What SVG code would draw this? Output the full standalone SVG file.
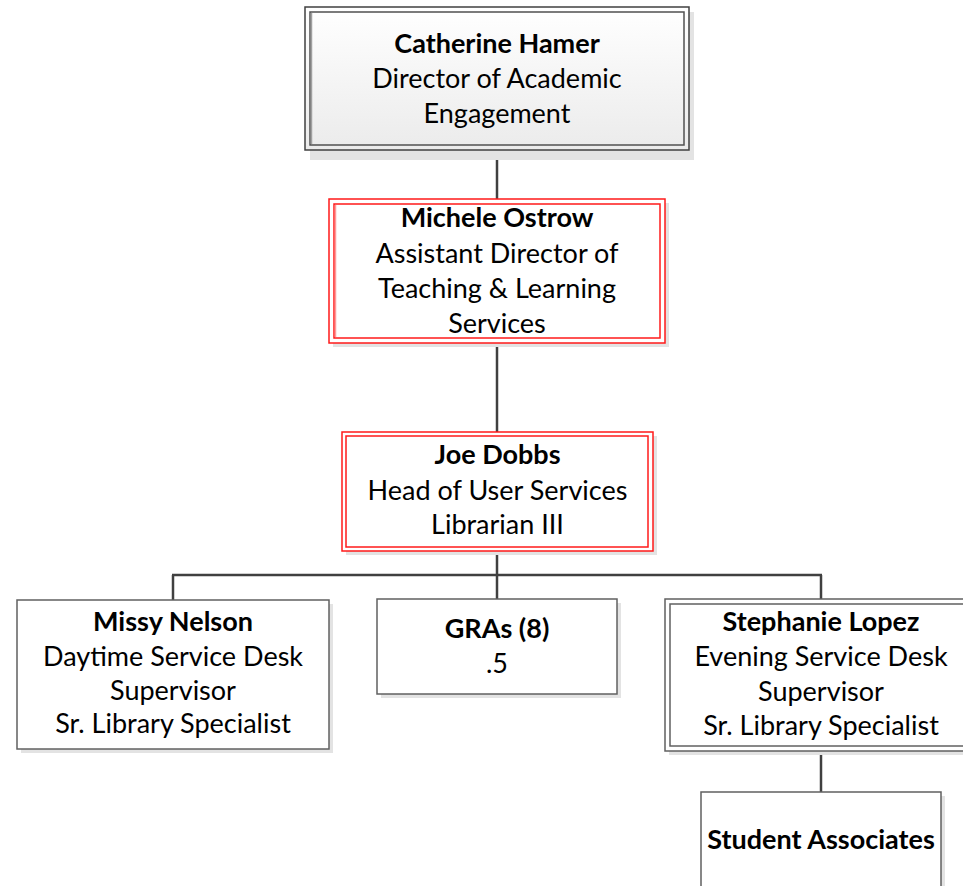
<svg xmlns="http://www.w3.org/2000/svg" width="963" height="886" viewBox="0 0 963 886">
<defs>
<linearGradient id="topfill" x1="0" y1="0" x2="0" y2="1">
<stop offset="0" stop-color="#ffffff"/>
<stop offset="1" stop-color="#ebebeb"/>
</linearGradient>
<style>
.t{font-family:Lato,"Liberation Sans",sans-serif;font-size:27px;fill:#000;text-anchor:middle}
.b{font-weight:bold}
.shadow{fill:#e3e3e3}
.conn{stroke:#404040;stroke-width:2.5;fill:none}
.gray{fill:#fff;stroke:#606060;stroke-width:1.5}
.red{fill:#fff;stroke:#ff1a1a;stroke-width:1.5}
.pink{fill:none;stroke:#ff9a9a;stroke-width:1.5}
</style>
</defs>
<rect width="963" height="886" fill="#fff"/>
<g id="connectors">
<line class="conn" x1="497" y1="150" x2="497" y2="199"/>
<line class="conn" x1="497" y1="343" x2="497" y2="432"/>
<line class="conn" x1="497" y1="551" x2="497" y2="599"/>
<line class="conn" x1="172" y1="575" x2="822" y2="575"/>
<line class="conn" x1="173" y1="575" x2="173" y2="600"/>
<line class="conn" x1="821" y1="575" x2="821" y2="599"/>
<line class="conn" x1="821" y1="751" x2="821" y2="792"/>
</g>
<g id="catherine">
<rect class="shadow" x="310" y="12" width="384" height="148"/>
<rect x="305" y="7" width="384" height="143" fill="url(#topfill)" stroke="#404040" stroke-width="1.5"/>
<rect x="310" y="12" width="374" height="133" fill="none" stroke="#505050" stroke-width="1.5"/>
<line x1="311.5" y1="13" x2="311.5" y2="144" stroke="#a0a0a0" stroke-width="1.5"/>
<text class="t b" x="497" y="53">Catherine Hamer</text>
<text class="t" x="497" y="88">Director of Academic</text>
<text class="t" x="497" y="123">Engagement</text>
</g>
<g id="michele">
<rect class="shadow" x="333" y="203" width="336" height="144"/>
<rect class="red" x="329" y="199" width="336" height="144"/>
<rect class="red" x="334" y="204" width="326" height="134"/>
<line class="pink" x1="335.5" y1="205" x2="335.5" y2="337"/>
<text class="t b" x="497" y="227">Michele Ostrow</text>
<text class="t" x="497" y="263">Assistant Director of</text>
<text class="t" x="497" y="298">Teaching &amp; Learning</text>
<text class="t" x="497" y="333">Services</text>
</g>
<g id="joe">
<rect class="shadow" x="346" y="436" width="311" height="119"/>
<rect class="red" x="342" y="432" width="311" height="119"/>
<rect class="red" x="346" y="436" width="302" height="111"/>
<text class="t b" x="497.5" y="464">Joe Dobbs</text>
<text class="t" x="497.5" y="500">Head of User Services</text>
<text class="t" x="497.5" y="534">Librarian III</text>
</g>
<g id="missy">
<rect class="shadow" x="21" y="604" width="312" height="149"/>
<rect class="gray" x="17" y="600" width="312" height="149"/>
<text class="t b" x="173" y="631">Missy Nelson</text>
<text class="t" x="173" y="666">Daytime Service Desk</text>
<text class="t" x="173" y="700">Supervisor</text>
<text class="t" x="173" y="733">Sr. Library Specialist</text>
</g>
<g id="gras">
<rect class="shadow" x="381" y="603" width="240" height="95"/>
<rect class="gray" x="377" y="599" width="240" height="95"/>
<text class="t b" x="497" y="638">GRAs (8)</text>
<text class="t" x="497" y="673">.5</text>
</g>
<g id="stephanie">
<rect class="shadow" x="669" y="603" width="312" height="152"/>
<rect class="gray" x="665" y="599" width="312" height="152" stroke="#505050"/>
<rect x="670" y="604" width="302" height="142" fill="none" stroke="#606060" stroke-width="1.5"/>
<text class="t b" x="821" y="631">Stephanie Lopez</text>
<text class="t" x="821" y="666">Evening Service Desk</text>
<text class="t" x="821" y="701">Supervisor</text>
<text class="t" x="821" y="735">Sr. Library Specialist</text>
</g>
<g id="student">
<rect class="shadow" x="705" y="796" width="240" height="120"/>
<rect class="gray" x="701" y="792" width="240" height="120"/>
<text class="t b" x="821" y="849">Student Associates</text>
</g>
</svg>
